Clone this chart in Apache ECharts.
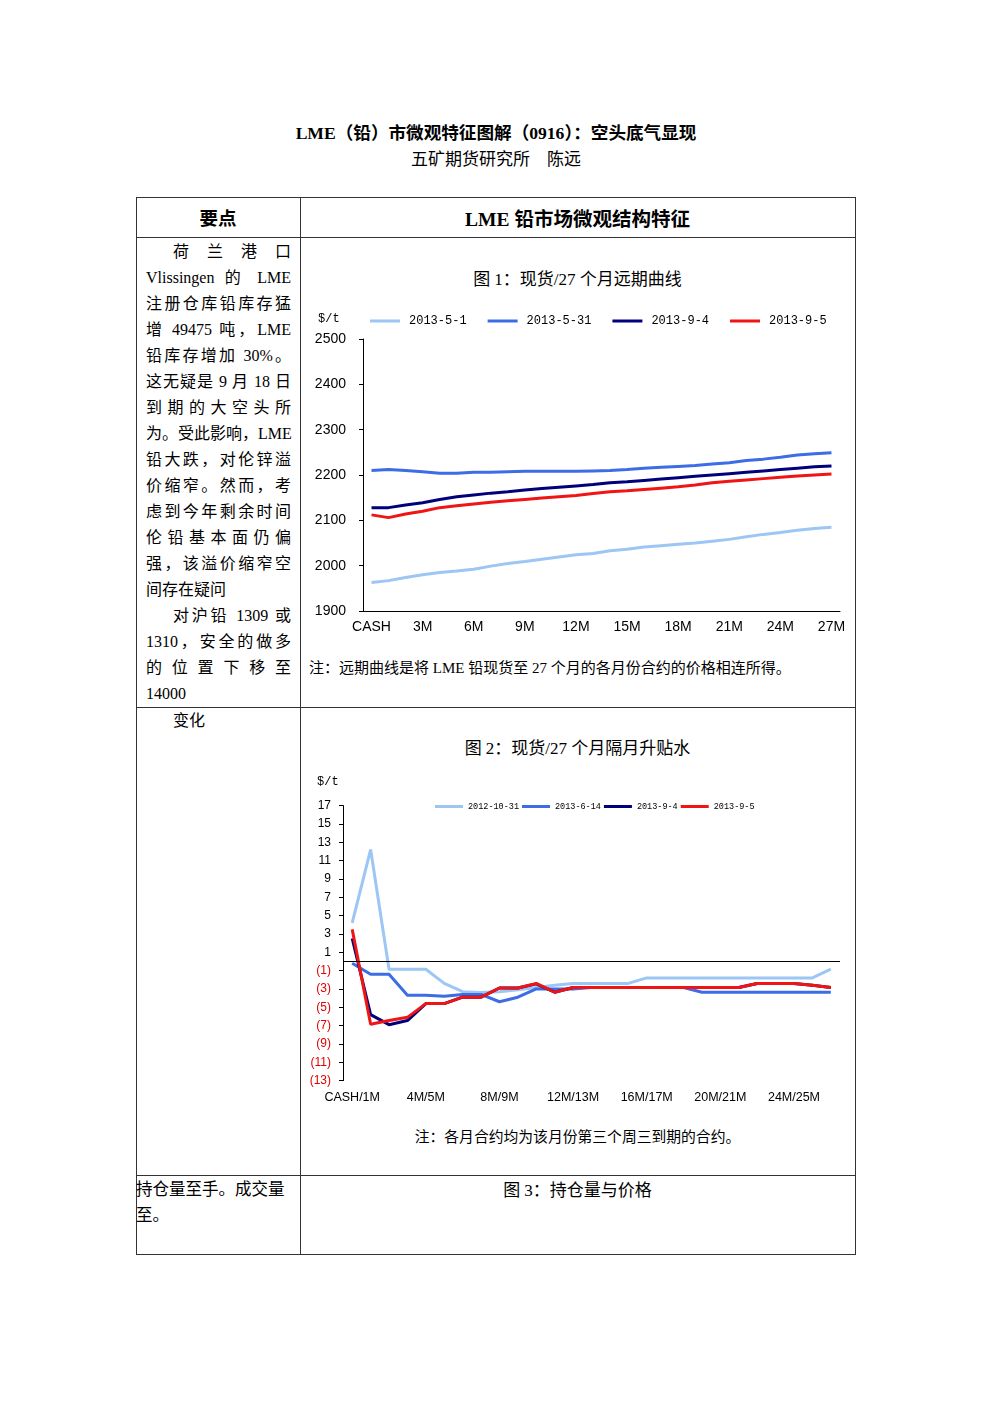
<!DOCTYPE html>
<html>
<head>
<meta charset="utf-8">
<script src="https://cdn.jsdelivr.net/npm/echarts@6/dist/echarts.min.js"></script>
<style>
body{margin:0;background:#fff;}
#page{position:relative;width:992px;height:1403px;font-family:"Liberation Serif","Noto Sans CJK SC",serif;color:#000;}
.abs{position:absolute;white-space:nowrap;}
.hl{position:absolute;background:#333;height:1px;}
.vl{position:absolute;background:#333;width:1px;}
.col{position:absolute;left:146px;width:145px;font-size:16px;line-height:26px;}
.col div{text-align:justify;text-align-last:justify;height:26px;white-space:nowrap;}
.col div.l{text-align-last:left;}
.ctr{position:absolute;text-align:center;white-space:nowrap;}
</style>
</head>
<body>
<div id="page">
	<div class="ctr" style="left:0;width:992px;top:119px;font-size:17.6px;font-weight:bold;">LME（铅）市微观特征图解（0916）：空头底气显现</div>
	<div class="ctr" style="left:0;width:992px;top:145px;font-size:17px;">五矿期货研究所　陈远</div>

	<!-- 表格线 -->
	<div class="hl" style="left:136px;width:720px;top:197px;"></div>
	<div class="hl" style="left:136px;width:720px;top:237px;"></div>
	<div class="hl" style="left:136px;width:720px;top:707px;"></div>
	<div class="hl" style="left:136px;width:720px;top:1175px;"></div>
	<div class="hl" style="left:136px;width:720px;top:1254px;"></div>
	<div class="vl" style="left:136px;height:1058px;top:197px;"></div>
	<div class="vl" style="left:300px;height:1058px;top:197px;"></div>
	<div class="vl" style="left:855px;height:1058px;top:197px;"></div>

	<div class="ctr" style="left:136px;width:164px;top:204px;font-size:18.5px;font-weight:bold;">要点</div>
	<div class="ctr" style="left:300px;width:555px;top:203px;font-size:19.5px;font-weight:bold;">LME 铅市场微观结构特征</div>

	<div class="col" style="top:239px;">
		<div style="padding-left:27px;">荷 兰 港 口</div>
		<div>Vlissingen 的 LME</div>
		<div>注册仓库铅库存猛</div>
		<div>增 49475 吨，LME</div>
		<div>铅库存增加 30%。</div>
		<div>这无疑是 9 月 18 日</div>
		<div>到 期 的 大 空 头 所</div>
		<div>为。受此影响，LME</div>
		<div>铅大跌，对伦锌溢</div>
		<div>价缩窄。然而，考</div>
		<div>虑到今年剩余时间</div>
		<div>伦 铅 基 本 面 仍 偏</div>
		<div>强，该溢价缩窄空</div>
		<div class="l">间存在疑问</div>
		<div style="padding-left:27px;">对沪铅 1309 或</div>
		<div>1310，安全的做多</div>
		<div>的 位 置 下 移 至</div>
		<div class="l">14000</div>
	</div>

	<div class="abs" style="left:173px;top:707px;font-size:16px;">变化</div>
	<div class="abs" style="left:136px;top:1177px;font-size:16.5px;line-height:26px;">持仓量至手。成交量<br>至。</div>

	<div class="ctr" style="left:300px;width:555px;top:265px;font-size:17px;">图 1：现货/27 个月远期曲线</div>
	<div class="abs" style="left:309px;top:656px;font-size:15px;">注：远期曲线是将 LME 铅现货至 27 个月的各月份合约的价格相连所得。</div>
	<div class="ctr" style="left:300px;width:555px;top:734px;font-size:17px;">图 2：现货/27 个月隔月升贴水</div>
	<div class="ctr" style="left:300px;width:555px;top:1125px;font-size:14.8px;">注：各月合约均为该月份第三个周三到期的合约。</div>
	<div class="ctr" style="left:300px;width:555px;top:1176px;font-size:17px;">图 3：持仓量与价格</div>

	<div id="c1" style="position:absolute;left:301px;top:290px;width:554px;height:360px;"></div>
	<div id="c2" style="position:absolute;left:301px;top:760px;width:554px;height:360px;"></div>
</div>
<script>
// 图1 现货/27个月远期曲线
var curveCats = ['CASH','1M','2M','3M','4M','5M','6M','7M','8M','9M','10M','11M','12M','13M','14M','15M','16M','17M','18M','19M','20M','21M','22M','23M','24M','25M','26M','27M'];
var curveNames = ['2013-5-1','2013-5-31','2013-9-4','2013-9-5'];
var curve0501 = [1963,1967,1974,1980,1985,1988,1992,1999,2005,2009,2014,2019,2024,2027,2033,2036,2041,2044,2047,2050,2054,2058,2064,2069,2073,2078,2082,2085];
var curve0531 = [2210,2212,2210,2207,2204,2204,2206,2206,2207,2208,2208,2208,2208,2209,2210,2212,2215,2217,2219,2221,2224,2227,2232,2235,2239,2244,2247,2249];
var curve0904 = [2128,2128,2134,2139,2146,2152,2156,2160,2163,2167,2170,2173,2176,2179,2183,2185,2188,2191,2194,2197,2200,2203,2206,2209,2212,2215,2218,2220];
var curve0905 = [2112,2106,2114,2120,2128,2132,2136,2140,2143,2146,2149,2152,2155,2159,2163,2165,2168,2171,2174,2178,2183,2186,2189,2192,2195,2198,2200,2202];

// 图2 隔月升贴水
var spreadCats = ['CASH/1M','1M/2M','2M/3M','3M/4M','4M/5M','5M/6M','6M/7M','7M/8M','8M/9M','9M/10M','10M/11M','11M/12M','12M/13M','13M/14M','14M/15M','15M/16M','16M/17M','17M/18M','18M/19M','19M/20M','20M/21M','21M/22M','22M/23M','23M/24M','24M/25M','25M/26M','26M/27M'];
var spreadNames = ['2012-10-31','2013-6-14','2013-9-4','2013-9-5'];
var spread1031 = [4.2,12.2,-0.85,-0.85,-0.85,-2.4,-3.3,-3.4,-3.3,-3.1,-2.85,-2.6,-2.4,-2.4,-2.4,-2.4,-1.8,-1.8,-1.8,-1.8,-1.8,-1.8,-1.8,-1.8,-1.8,-1.8,-0.85];
var spread0614 = [-0.2,-1.4,-1.4,-3.7,-3.7,-3.8,-3.6,-3.6,-4.4,-3.9,-3.0,-3.0,-3.0,-2.85,-2.85,-2.85,-2.85,-2.85,-2.85,-3.36,-3.36,-3.36,-3.36,-3.36,-3.36,-3.36,-3.36];
var spread0904 = [2.5,-5.8,-6.9,-6.45,-4.6,-4.6,-3.9,-3.9,-2.9,-2.9,-2.45,-3.36,-2.85,-2.85,-2.85,-2.85,-2.85,-2.85,-2.85,-2.85,-2.85,-2.85,-2.4,-2.4,-2.4,-2.6,-2.85];
var spread0905 = [3.5,-6.85,-6.45,-6.1,-4.6,-4.6,-3.9,-3.9,-2.9,-2.9,-2.4,-3.36,-2.85,-2.85,-2.85,-2.85,-2.85,-2.85,-2.85,-2.85,-2.85,-2.85,-2.4,-2.4,-2.4,-2.6,-2.85];
var spreadTicks = [-13,-11,-9,-7,-5,-3,-1,1,3,5,7,9,11,13,15,17];

var colors = ['#9cc6f3','#3c6de6','#00007a','#f01414'];

function lineSeries(name, data, color) {
	return { name: name, type: 'line', data: data, symbol: 'none', silent: true,
		lineStyle: { color: color, width: 3 }, itemStyle: { color: color } };
}

var c1 = echarts.init(document.getElementById('c1'));
c1.setOption({
	animation: false,
	title: { text: '$/t', left: 17, top: 23, padding: 0, textStyle: { fontFamily: 'Liberation Mono', fontSize: 12, fontWeight: 'normal', color: '#000' } },
	legend: {
		data: curveNames, left: 69, top: 25, padding: 0, icon: 'rect', itemWidth: 30, itemHeight: 3, itemGap: 21,
		textStyle: { fontFamily: 'Liberation Mono', fontSize: 12, color: '#000', padding: [0, 0, 0, 4] }
	},
	grid: { left: 62, top: 49, width: 477, height: 272 },
	xAxis: {
		type: 'category', data: curveCats, boundaryGap: true,
		axisLine: { lineStyle: { color: '#000', width: 1 } },
		axisTick: { interval: 2, length: 4, lineStyle: { color: '#000' } },
		axisLabel: { interval: 2, margin: 9, fontFamily: 'Liberation Sans', fontSize: 14, color: '#000' }
	},
	yAxis: {
		type: 'value', min: 1900, max: 2500, interval: 100,
		axisLine: { show: true, lineStyle: { color: '#000', width: 1 } },
		axisTick: { show: true, length: 4, lineStyle: { color: '#000' } },
		axisLabel: { margin: 17, fontFamily: 'Liberation Sans', fontSize: 14, color: '#000',
			formatter: function(v) { return String(v); } },
		splitLine: { show: false }
	},
	series: [
		lineSeries(curveNames[0], curve0501, colors[0]),
		lineSeries(curveNames[1], curve0531, colors[1]),
		lineSeries(curveNames[2], curve0904, colors[2]),
		lineSeries(curveNames[3], curve0905, colors[3])
	]
});

var c2 = echarts.init(document.getElementById('c2'));
var s2 = [
	lineSeries(spreadNames[0], spread1031, colors[0]),
	lineSeries(spreadNames[1], spread0614, colors[1]),
	lineSeries(spreadNames[2], spread0904, colors[2]),
	lineSeries(spreadNames[3], spread0905, colors[3])
];
// 零轴
s2[0].markLine = { silent: true, symbol: 'none', label: { show: false },
	lineStyle: { color: '#000', width: 1, type: 'solid' }, data: [{ yAxis: 0 }] };
c2.setOption({
	animation: false,
	title: { text: '$/t', left: 16, top: 16, padding: 0, textStyle: { fontFamily: 'Liberation Mono', fontSize: 12, fontWeight: 'normal', color: '#000' } },
	legend: {
		data: spreadNames, left: 134, top: 42, padding: 0, icon: 'rect', itemWidth: 28, itemHeight: 3, itemGap: 3,
		textStyle: { fontFamily: 'Liberation Mono', fontSize: 8.5, color: '#000' }
	},
	grid: { left: 42, top: 45.6, width: 497, height: 275 },
	xAxis: {
		type: 'category', data: spreadCats, boundaryGap: true,
		axisLine: { show: false },
		axisTick: { show: false },
		axisLabel: { interval: 3, margin: 10, fontFamily: 'Liberation Sans', fontSize: 12.5, color: '#000' }
	},
	yAxis: {
		type: 'value', min: -13, max: 17,
		axisLine: { show: true, lineStyle: { color: '#000', width: 1 } },
		axisTick: { show: true, length: 4, customValues: spreadTicks, lineStyle: { color: '#000' } },
		axisLabel: {
			customValues: spreadTicks, margin: 12, fontFamily: 'Liberation Sans', fontSize: 12,
			formatter: function(v) { return v < 0 ? '(' + (-v) + ')' : String(v); },
			color: function(v) { return Number(v) < 0 ? '#e00000' : '#000'; }
		},
		splitLine: { show: false }
	},
	series: s2
});
</script>
</body>
</html>
